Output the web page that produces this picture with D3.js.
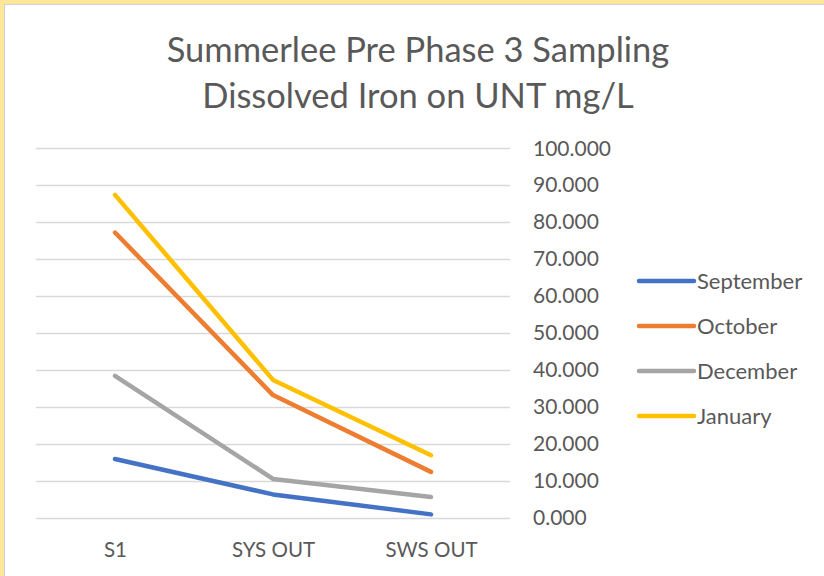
<!DOCTYPE html>
<html>
<head>
<meta charset="utf-8">
<script src="https://cdn.jsdelivr.net/npm/d3@7"></script>
<style>
  html, body { margin: 0; padding: 0; background: #ffe699; }
  #graph { position: absolute; left: 0; top: 0; }
</style>
</head>
<body>
<div id="graph"></div>
<script>
// data
var sites = ["S1", "SYS OUT", "SWS OUT"];
var months = ["September", "October", "December", "January"];
var september = [15.9, 6.3, 0.9];
var october = [77.2, 33.2, 12.4];
var december = [38.4, 10.5, 5.6];
var january = [87.4, 37.3, 16.9];
var yTicks = [0, 10, 20, 30, 40, 50, 60, 70, 80, 90, 100];
var colors = ["#4472c4", "#ed7d31", "#a5a5a5", "#ffc000"];

var series = [september, october, december, january].map(function (vals, i) {
    return {name: months[i], color: colors[i], values: vals.map(function (v, j) {
        return {site: sites[j], value: v};
    })};
});

var W = 824, H = 576;
var font = "Lato, 'Open Sans', sans-serif";

var svg = d3.select('#graph').html('')
    .append("svg")
    .attr("width", W)
    .attr("height", H);

// yellow frame + chart area
svg.append("rect")
    .attr("x", 0).attr("y", 0).attr("width", W).attr("height", H)
    .attr("fill", "#ffe699");
svg.append("rect")
    .attr("x", 4.5).attr("y", 4.5).attr("width", W).attr("height", H)
    .attr("fill", "#fff")
    .attr("stroke", "#d0d3d4")
    .attr("stroke-width", 1);

// title
var title = svg.append("text")
    .attr("text-anchor", "middle")
    .attr("fill", "#595959")
    .style("font-family", font)
    .style("font-size", "34.5px");
title.append("tspan").attr("x", 418).attr("y", 62).text("Summerlee Pre Phase 3 Sampling");
title.append("tspan").attr("x", 418).attr("y", 108).text("Dissolved Iron on UNT mg/L");

var x = d3.scalePoint()
    .domain(sites)
    .range([36, 510])
    .padding(0.5);

var y = d3.scaleLinear()
    .domain([0, 100])
    .range([517.7, 148.3]);

// gridlines
svg.append("g")
    .selectAll("line")
    .data(yTicks)
    .enter().append("line")
    .attr("x1", 36).attr("x2", 510)
    .attr("y1", function (d) { return Math.round(y(d)) + 0.5; })
    .attr("y2", function (d) { return Math.round(y(d)) + 0.5; })
    .attr("stroke", "#d9d9d9")
    .attr("stroke-width", 1.5);

// right axis labels
var yAxis = svg.append("g")
    .attr("transform", "translate(510,0)")
    .call(d3.axisRight(y).tickValues(yTicks).tickSize(0).tickPadding(23)
        .tickFormat(d3.format(".3f")));
yAxis.select(".domain").remove();
yAxis.selectAll("text")
    .attr("fill", "#595959")
    .style("font-family", font)
    .style("font-size", "21px");

// bottom category labels
var xAxis = svg.append("g")
    .attr("transform", "translate(0,518)")
    .call(d3.axisBottom(x).tickSize(0).tickPadding(24));
xAxis.select(".domain").remove();
xAxis.selectAll("text")
    .attr("fill", "#595959")
    .style("font-family", font)
    .style("font-size", "20.5px");

// lines
var line = d3.line()
    .x(function (d) { return x(d.site); })
    .y(function (d) { return y(d.value); });

svg.append("g")
    .selectAll("path")
    .data(series)
    .enter().append("path")
    .attr("d", function (d) { return line(d.values); })
    .attr("fill", "none")
    .attr("stroke", function (d) { return d.color; })
    .attr("stroke-width", 4.5)
    .attr("stroke-linecap", "round")
    .attr("stroke-linejoin", "round");

// legend
var legend = svg.append("g")
    .selectAll("g")
    .data(series)
    .enter().append("g")
    .attr("transform", function (d, i) { return "translate(639," + (281 + i * 45) + ")"; });
legend.append("line")
    .attr("x1", 0).attr("x2", 55)
    .attr("stroke", function (d) { return d.color; })
    .attr("stroke-width", 4.5)
    .attr("stroke-linecap", "round");
legend.append("text")
    .attr("x", 58).attr("y", 0).attr("dy", "0.35em")
    .attr("fill", "#595959")
    .style("font-family", font)
    .style("font-size", "22px")
    .text(function (d) { return d.name; });
</script>
</body>
</html>
